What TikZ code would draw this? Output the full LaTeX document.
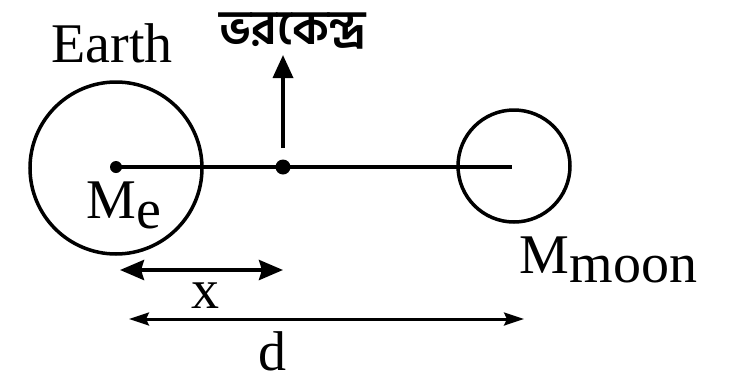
\documentclass[tikz,border=0pt]{standalone}
\usepackage{fontspec}
\setmainfont{Liberation Serif}
\newfontfamily\bnfont[Script=Bengali]{Hind Siliguri}
\usetikzlibrary{arrows.meta}
\begin{document}
\begin{tikzpicture}[x=1pt,y=-1pt, line width=3.5pt,
  body/.style={circle,draw,inner sep=0pt,line width=3.5pt},
  dotn/.style={circle,fill,inner sep=0pt,minimum size=#1},
  lbl/.style={font=\fontsize{56}{62}\selectfont, inner sep=0pt},
  bigtip/.style={-{Triangle[length=23pt,width=20pt]}},
  dimx/.style={{Stealth[length=24pt,width=20pt,inset=3pt]}-{Stealth[length=24pt,width=20pt,inset=3pt]}, line width=4pt},
  dimd/.style={{Stealth[length=20pt,width=13pt,inset=3pt]}-{Stealth[length=20pt,width=13pt,inset=3pt]}, line width=3pt}]
\useasboundingbox (0,0) rectangle (729,381);
% bodies
\node[body,minimum size=172pt] (earth) at (116,168) {};
\node[body,minimum size=112pt] (moon) at (514,166) {};
\node[dotn=12pt] (me) at (116,167) {};
\node[dotn=15pt] (cm) at (283,167) {};
\coordinate (mc) at (512,167);
\draw (me.center) -- (mc);
% arrow to centre of mass label
\coordinate (ab) at (283,148);
\coordinate (atop) at (283,55);
\draw[bigtip] (ab) -- (atop);
% labels
\node[lbl, anchor=base] (earthlbl) at (112,62) {Earth};
\node[font=\bnfont\bfseries\fontsize{48}{54}\selectfont, inner sep=0pt] (cmlbl) at (293,31) {ভরকেন্দ্র};
\node[lbl, anchor=base west] (melbl) at (85,218) {M\raisebox{-10pt}{e}};
\node[lbl, anchor=base west] (mmlbl) at (518,273) {M\raisebox{-9pt}{moon}};
% dimensions
\coordinate (xl) at (120,270);
\coordinate (xr) at (283,270);
\draw[dimx] (xl) -- (xr);
\node[lbl, anchor=base] (xlbl) at (205,308) {x};
\coordinate (dl) at (129,319);
\coordinate (dr) at (524,319);
\draw[dimd] (dl) -- (dr);
\node[lbl, anchor=base] (dlbl) at (272,370) {d};
\end{tikzpicture}
\end{document}
